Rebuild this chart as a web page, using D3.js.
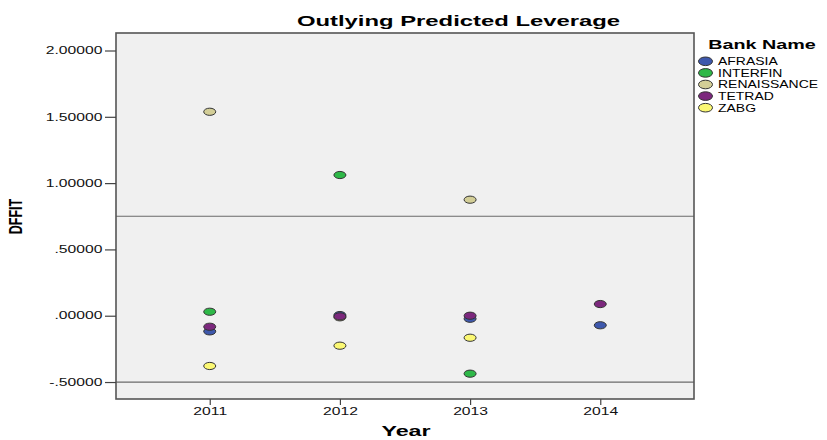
<!DOCTYPE html>
<html><head><meta charset="utf-8">
<script src="https://cdn.jsdelivr.net/npm/d3@7"></script>
<style>
html,body{margin:0;padding:0;background:#fff;}
text{font-family:"Liberation Sans",Arial,sans-serif;}
</style></head>
<body><svg id="c" width="827" height="440"></svg>
<script>
const years = [2011, 2012, 2013, 2014];
const bankNames = ["AFRASIA", "INTERFIN", "RENAISSANCE", "TETRAD", "ZABG"];
const bankColors = ["#3E58AC", "#2EB848", "#D3CE97", "#7C287D", "#FBF873"];
const afrasia = [-0.118, 0.005, -0.023, -0.072];
const interfin = [0.030, 1.061, -0.437, null];
const renaissance = [1.538, -0.012, 0.875, null];
const tetrad = [-0.083, -0.005, 0.0, 0.088];
const zabg = [-0.379, -0.226, -0.166, null];
const yTicks = [-0.5, 0, 0.5, 1.0, 1.5, 2.0];
const yTickLabels = ["-.50000", ".00000", ".50000", "1.00000", "1.50000", "2.00000"];
const refLines = [0.75, -0.5];
const title = "Outlying Predicted Leverage";
const xTitle = "Year", yTitle = "DFFIT", legendTitle = "Bank Name";

const seriesVals = [afrasia, interfin, renaissance, tetrad, zabg];
const drawOrder = [2, 0, 1, 3, 4];

const SX = 1.57;
const svg = d3.select("#c");
const L = 116, R = 694, T = 33, B = 399;
const x = d3.scaleLinear().domain([2010.28, 2014.72]).range([L, R]);
const y = d3.scaleLinear().domain([-0.628, 2.132]).range([B, T]);

function stext(g, px, py, str, size, weight, anchor, sx) {
  return g.append("text")
    .attr("transform", `translate(${px},${py}) scale(${sx},1)`)
    .attr("text-anchor", anchor)
    .style("font-size", size + "px")
    .style("font-weight", weight)
    .attr("fill", "#000")
    .text(str);
}

// plot background
svg.append("rect").attr("x", L).attr("y", T).attr("width", R - L).attr("height", B - T)
  .attr("fill", "#F0F0F0");

// reference lines
svg.selectAll("line.ref").data(refLines).enter().append("line")
  .attr("class", "ref")
  .attr("x1", L).attr("x2", R)
  .attr("y1", d => y(d)).attr("y2", d => y(d))
  .attr("stroke", "#6a6a6a").attr("stroke-width", 1.2);

// frame
svg.append("rect").attr("x", L).attr("y", T).attr("width", R - L).attr("height", B - T)
  .attr("fill", "none").attr("stroke", "#555").attr("stroke-width", 1.6);

// y axis
const yAxis = svg.append("g").attr("transform", `translate(${L},0)`)
  .call(d3.axisLeft(y).tickValues(yTicks).tickSize(11).tickPadding(2)
    .tickFormat((d, i) => yTickLabels[i]));
yAxis.select(".domain").remove();
yAxis.selectAll(".tick line").attr("stroke", "#444").attr("stroke-width", 1.2);
yAxis.selectAll(".tick text")
  .attr("x", -13.5 / SX)
  .attr("transform", `scale(${SX},1)`)
  .style("font-size", "10px").style("font-family", "'Liberation Sans',Arial,sans-serif")
  .attr("fill", "#111");

// x axis
const xAxis = svg.append("g").attr("transform", `translate(0,${B})`)
  .call(d3.axisBottom(x).tickValues(years).tickSize(6).tickPadding(3)
    .tickFormat(d3.format("d")));
xAxis.select(".domain").remove();
xAxis.selectAll(".tick line").attr("stroke", "#444").attr("stroke-width", 1.2);
xAxis.selectAll(".tick text")
  .attr("transform", `scale(${SX},1)`)
  .style("font-size", "10px").style("font-family", "'Liberation Sans',Arial,sans-serif")
  .attr("fill", "#111");

// points
drawOrder.forEach(si => {
  const vals = seriesVals[si];
  svg.append("g").selectAll("ellipse").data(years.map((yr, i) => ({yr, v: vals[i]})).filter(d => d.v !== null))
    .enter().append("ellipse")
    .attr("cx", d => x(d.yr)).attr("cy", d => y(d.v))
    .attr("rx", 6).attr("ry", 3.6)
    .attr("fill", bankColors[si])
    .attr("stroke", "#333").attr("stroke-width", 1);
});

// titles
stext(svg, 458.5, 25.5, title, 15, "bold", "middle", 1.59);
stext(svg, 406, 436, xTitle, 15, "bold", "middle", 1.55);
svg.append("text")
  .attr("transform", `translate(21.5,216.5) scale(1.4,1) rotate(-90)`)
  .attr("text-anchor", "middle")
  .style("font-size", "12.5px").style("font-weight", "bold")
  .text(yTitle);

// legend
stext(svg, 762, 49, legendTitle, 13, "bold", "middle", 1.52);
const lg = svg.append("g");
bankNames.forEach((n, i) => {
  const cy = 61.3 + i * 11.6;
  lg.append("ellipse").attr("cx", 705.5).attr("cy", cy).attr("rx", 7).attr("ry", 4.3)
    .attr("fill", bankColors[i]).attr("stroke", "#333").attr("stroke-width", 1);
  stext(lg, 718, cy + 3.8, n, 10.5, "normal", "start", 1.33);
});
</script></body></html>
